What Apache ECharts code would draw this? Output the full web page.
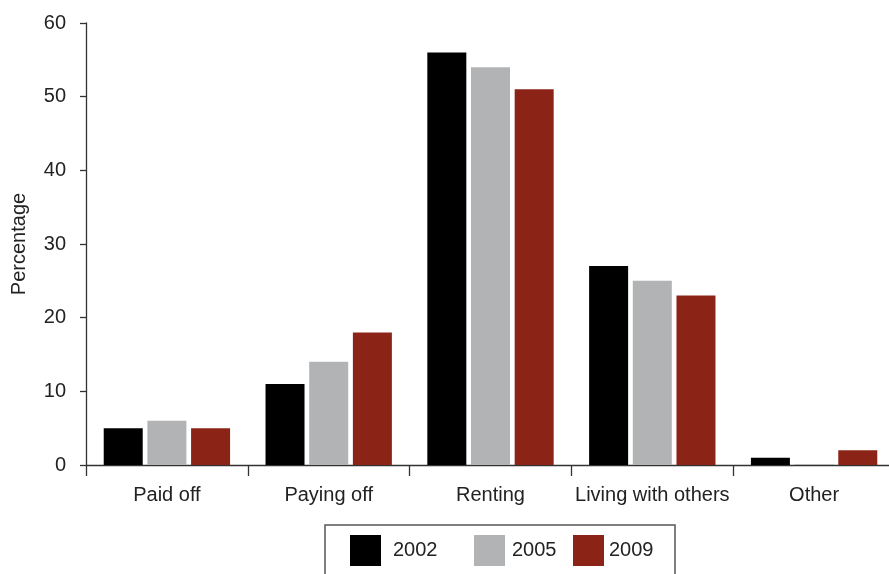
<!DOCTYPE html>
<html>
<head>
<meta charset="utf-8">
<script src="https://cdn.jsdelivr.net/npm/echarts@6/dist/echarts.min.js"></script>
<style>
html,body{margin:0;padding:0;background:#fff;}
#chart{width:889px;height:574px;}
</style>
</head>
<body>
<div id="chart"></div>
<script>
const categories = ['Paid off', 'Paying off', 'Renting', 'Living with others', 'Other'];
const years = ['2002', '2005', '2009'];
const values2002 = [5, 11, 56, 27, 1];
const values2005 = [6, 14, 54, 25, 0.15];
const values2009 = [5, 18, 51, 23, 2];
const yTicks = [0, 10, 20, 30, 40, 50, 60];
const colors = ['#000000', '#b2b3b5', '#8b2416'];

const FONT = "'Liberation Sans', Arial, sans-serif";
const TXT = '#222';

const chart = echarts.init(document.getElementById('chart'), null, {renderer: 'canvas'});
const seriesData = [values2002, values2005, values2009];

const legendPos = [
  {left: 350, pad: 7},
  {left: 474, pad: 2},
  {left: 573, pad: 0}
];

chart.setOption({
  animation: false,
  backgroundColor: '#fff',
  textStyle: {fontFamily: FONT},
  grid: {left: 86, width: 809, top: 23, bottom: 109, containLabel: false, outerBoundsMode: 'none'},
  xAxis: {
    type: 'category',
    data: categories,
    axisLine: {lineStyle: {color: '#333', width: 1.3}},
    axisTick: {show: true, alignWithLabel: false, length: 11, lineStyle: {color: '#333', width: 1.3}},
    axisLabel: {color: TXT, fontSize: 20, fontFamily: FONT, margin: 20, interval: 0}
  },
  yAxis: {
    type: 'value',
    min: yTicks[0],
    max: yTicks[yTicks.length - 1],
    interval: 10,
    name: 'Percentage',
    nameLocation: 'middle',
    nameGap: 57,
    nameTextStyle: {color: TXT, fontSize: 20, fontFamily: FONT},
    axisLine: {show: true, lineStyle: {color: '#333', width: 1.3}},
    axisTick: {show: true, length: 6, lineStyle: {color: '#333', width: 1.3}},
    axisLabel: {color: TXT, fontSize: 20, fontFamily: FONT, margin: 20},
    splitLine: {show: false}
  },
  legend: legendPos.map((p, i) => ({
    data: [years[i]],
    left: p.left,
    top: 535,
    padding: 0,
    itemWidth: 31,
    itemHeight: 31,
    icon: 'rect',
    textStyle: {color: TXT, fontSize: 20, fontFamily: FONT, padding: [0, 0, 0, p.pad]}
  })),
  graphic: [{
    type: 'rect',
    shape: {x: 325, y: 525, width: 350, height: 60},
    style: {fill: 'none', stroke: '#555', lineWidth: 1.5},
    silent: true
  }],
  series: years.map((y, i) => ({
    name: y,
    type: 'bar',
    data: seriesData[i],
    barWidth: 39,
    barGap: '12%',
    itemStyle: {color: colors[i]}
  }))
});
</script>
</body>
</html>
